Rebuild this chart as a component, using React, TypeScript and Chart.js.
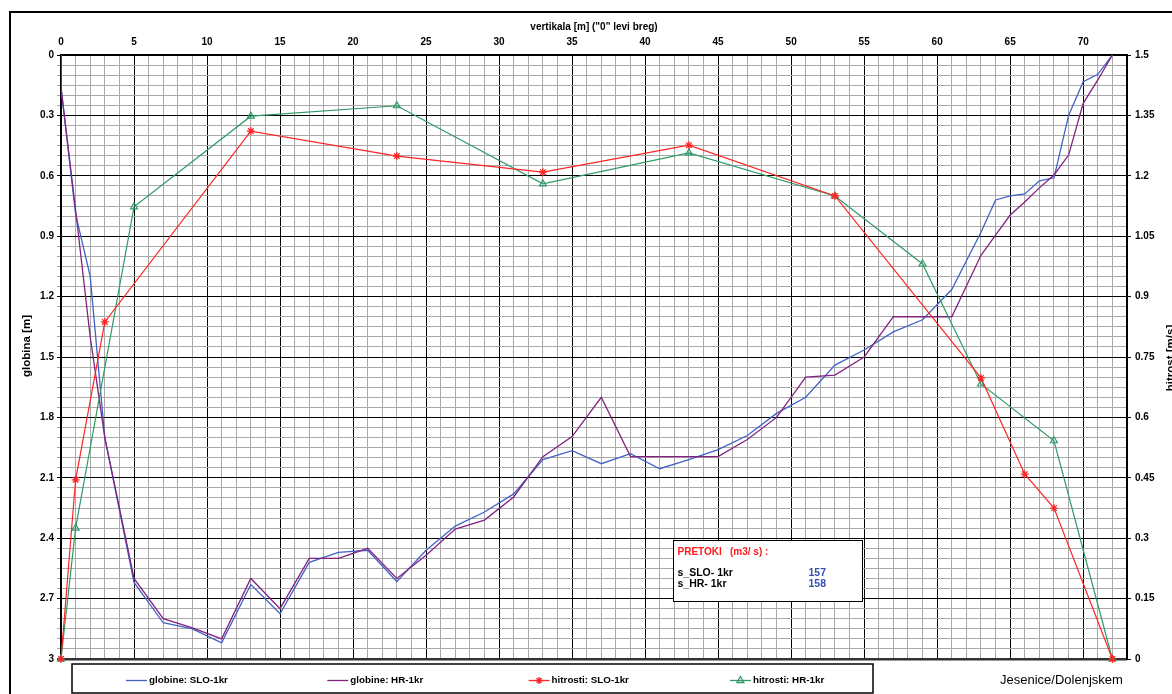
import React, { useEffect, useRef } from 'react';
import { Chart, registerables } from 'chart.js';

Chart.register(...registerables);

// ---- data ----
const depthX = [0, 0, 1, 2, 3, 5, 7, 9, 11, 13, 15, 17, 19, 21, 23, 25, 27, 29, 31, 33, 35, 37, 39, 41, 43, 45, 47, 49, 51, 53, 55, 57, 59, 61, 63, 64, 65, 66, 67, 68, 69, 70, 71, 72];
const depthSLO = [0, 0.16, 0.79, 1.1, 1.9, 2.62, 2.82, 2.85, 2.92, 2.63, 2.775, 2.52, 2.47, 2.46, 2.615, 2.46, 2.34, 2.27, 2.18, 2.01, 1.965, 2.03, 1.98, 2.055, 2.01, 1.96, 1.89, 1.78, 1.7, 1.54, 1.465, 1.375, 1.315, 1.165, 0.88, 0.72, 0.7, 0.69, 0.625, 0.61, 0.3, 0.133, 0.096, 0];
const depthHR = [0, 0.16, 0.77, 1.4, 1.9, 2.6, 2.8, 2.845, 2.9, 2.6, 2.75, 2.5, 2.5, 2.45, 2.6, 2.485, 2.355, 2.31, 2.195, 1.995, 1.895, 1.7, 1.995, 1.995, 1.995, 1.995, 1.91, 1.8, 1.6, 1.59, 1.5, 1.3, 1.3, 1.3, 0.995, 0.895, 0.795, 0.73, 0.66, 0.596, 0.497, 0.24, 0.124, 0];

const velSLOX = [0, 1, 3, 13, 23, 33, 43, 53, 63, 66, 68, 72];
const velSLO = [0, 0.445, 0.837, 1.311, 1.249, 1.209, 1.276, 1.15, 0.698, 0.459, 0.375, 0];
const velHRX = [0, 1, 5, 13, 23, 33, 43, 53, 59, 63, 68, 72];
const velHR = [0, 0.325, 1.123, 1.348, 1.374, 1.18, 1.257, 1.15, 0.981, 0.683, 0.542, 0];

const seriesLabels = ['globine: SLO-1kr', 'globine: HR-1kr', 'hitrosti: SLO-1kr', 'hitrosti: HR-1kr'];
const flowTitle = 'PRETOKI';
const flowUnit = '(m3/ s) :';
const flowNames = ['s_SLO- 1kr', 's_HR- 1kr'];
const flowValues = [157, 158];
const xTitle = 'vertikala [m] ("0" levi breg)';
const yTitle = 'globina [m]';
const y2Title = 'hitrost [m/s]';
const placeName = 'Jesenice/Dolenjskem';

const xMax = 73;
const xLabelStep = 5;
const depthMax = 3;
const depthStep = 0.05;
const depthLabelStep = 0.3;
const velMax = 1.5;
const velStep = 0.15;

// ---- styles ----
const FONT = "'Liberation Sans', Arial, sans-serif";
const BLUE = '#4262c6';
const PURPLE = '#82237f';
const RED = '#ff2424';
const GREEN = '#2f9a68';
const MINOR = '#a9a9a9';

const toPts = (xs: number[], ys: number[]) => xs.map((x, i) => ({ x, y: ys[i] }));
const isMult = (v: number, s: number) => Math.abs(Math.round(v / s) * s - v) < 1e-6;

function drawStar(ctx: CanvasRenderingContext2D, x: number, y: number, r: number) {
  const d = r * Math.SQRT1_2;
  ctx.beginPath();
  ctx.moveTo(x - r, y); ctx.lineTo(x + r, y);
  ctx.moveTo(x, y - r); ctx.lineTo(x, y + r);
  ctx.moveTo(x - d, y - d); ctx.lineTo(x + d, y + d);
  ctx.moveTo(x - d, y + d); ctx.lineTo(x + d, y - d);
  ctx.stroke();
}
function drawTri(ctx: CanvasRenderingContext2D, x: number, y: number, r: number) {
  ctx.beginPath();
  ctx.moveTo(x, y - r);
  ctx.lineTo(x + r * 0.866, y + r * 0.5);
  ctx.lineTo(x - r * 0.866, y + r * 0.5);
  ctx.closePath();
  ctx.stroke();
}

const decorPlugin = {
  id: 'decor',
  afterDraw(chart: any) {
    const ctx: CanvasRenderingContext2D = chart.ctx;
    const ca = chart.chartArea;
    ctx.save();
    // outer frame
    ctx.strokeStyle = '#000';
    ctx.lineWidth = 2;
    ctx.strokeRect(10, 12, 1200, 720);

    ctx.fillStyle = '#000';
    ctx.textBaseline = 'middle';
    // top title
    ctx.font = `bold 10px ${FONT}`;
    ctx.textAlign = 'center';
    ctx.fillText(xTitle, (ca.left + ca.right) / 2, 27);
    // left title
    ctx.save();
    ctx.translate(27, 346);
    ctx.rotate(-Math.PI / 2);
    ctx.font = `bold 11.5px ${FONT}`;
    ctx.fillText(yTitle, 0, 0);
    ctx.restore();
    // right title
    ctx.save();
    ctx.translate(1171, 358);
    ctx.rotate(-Math.PI / 2);
    ctx.font = `bold 11.5px ${FONT}`;
    ctx.fillText(y2Title, 0, 0);
    ctx.restore();

    // info box
    const bx = 673, by = 540, bw = 189, bh = 61;
    ctx.fillStyle = '#fff';
    ctx.fillRect(bx, by, bw, bh);
    ctx.strokeStyle = '#000';
    ctx.lineWidth = 1;
    ctx.strokeRect(bx + 0.5, by + 0.5, bw, bh);
    ctx.textAlign = 'left';
    ctx.font = `bold 10px ${FONT}`;
    ctx.fillStyle = '#ff1a1a';
    ctx.fillText(flowTitle, bx + 4.5, by + 12);
    ctx.fillText(flowUnit, bx + 57, by + 12);
    ctx.font = `bold 10.5px ${FONT}`;
    flowNames.forEach((n, i) => {
      ctx.fillStyle = '#000';
      ctx.fillText(n, bx + 4.5, by + 33 + i * 11);
      ctx.fillStyle = '#3552b0';
      ctx.fillText(String(flowValues[i]), bx + 135.5, by + 33 + i * 11);
    });

    // legend box
    const lx = 72, ly = 664, lw = 801, lh = 29;
    ctx.fillStyle = '#fff';
    ctx.fillRect(lx, ly, lw, lh);
    ctx.strokeStyle = '#000';
    ctx.lineWidth = 1.5;
    ctx.strokeRect(lx, ly, lw, lh);
    const colors = [BLUE, PURPLE, RED, GREEN];
    ctx.font = `bold 9.8px ${FONT}`;
    seriesLabels.forEach((lab, i) => {
      const x0 = 126 + i * 201.3;
      const yy = 680.5;
      ctx.strokeStyle = colors[i];
      ctx.lineWidth = 1.3;
      ctx.beginPath();
      ctx.moveTo(x0, yy);
      ctx.lineTo(x0 + 21, yy);
      ctx.stroke();
      if (i === 2) drawStar(ctx, x0 + 10.5, yy, 3.5);
      if (i === 3) drawTri(ctx, x0 + 10.5, yy, 4);
      ctx.fillStyle = '#000';
      ctx.fillText(lab, x0 + 23, yy);
    });

    // place name
    ctx.font = `13px ${FONT}`;
    ctx.fillStyle = '#000';
    ctx.fillText(placeName, 1000, 680);
    ctx.restore();
  },
};

export default function App() {
  const ref = useRef<HTMLCanvasElement>(null);
  useEffect(() => {
    const tickFont = { family: FONT, size: 10, weight: 'bold' as const };
    const chart = new Chart(ref.current!, {
      type: 'line',
      data: {
        datasets: [
          {
            label: seriesLabels[2], data: toPts(velSLOX, velSLO), yAxisID: 'y2', xAxisID: 'x',
            borderColor: RED, borderWidth: 1.2, pointStyle: 'star', pointRadius: 4,
            pointBorderColor: RED, pointBorderWidth: 1.2, pointBackgroundColor: RED, clip: false as any,
          },
          {
            label: seriesLabels[3], data: toPts(velHRX, velHR), yAxisID: 'y2', xAxisID: 'x',
            borderColor: GREEN, borderWidth: 1.2, pointStyle: 'triangle', pointRadius: 4,
            pointBorderColor: GREEN, pointBorderWidth: 1.2, pointBackgroundColor: 'rgba(255,255,255,0)', clip: false as any,
          },
          {
            label: seriesLabels[1], data: toPts(depthX, depthHR), yAxisID: 'y', xAxisID: 'x',
            borderColor: PURPLE, borderWidth: 1.3, pointRadius: 0,
          },
          {
            label: seriesLabels[0], data: toPts(depthX, depthSLO), yAxisID: 'y', xAxisID: 'x',
            borderColor: BLUE, borderWidth: 1.3, pointRadius: 0,
          },
        ],
      },
      options: {
        responsive: false,
        animation: false,
        devicePixelRatio: 1,
        layout: { padding: { left: 0, right: 0, top: 0, bottom: 35 } },
        plugins: { legend: { display: false }, tooltip: { enabled: false } },
        elements: { line: { tension: 0 } },
        scales: {
          x: {
            type: 'linear', position: 'top', min: 0, max: xMax,
            ticks: {
              stepSize: 1, autoSkip: false, maxRotation: 0, padding: 7, color: '#000', font: tickFont,
              callback: (v: any) => (isMult(v, xLabelStep) && v < xMax ? String(v) : ''),
            },
            grid: {
              drawTicks: false,
              color: (c: any) => (c.tick && (isMult(c.tick.value, xLabelStep) || c.tick.value === xMax) ? '#000' : MINOR),
              lineWidth: 1,
            },
            border: { display: true, color: '#000', width: 2 },
            afterFit: (s: any) => { s.height = 55; },
          },
          y: {
            type: 'linear', position: 'left', min: 0, max: depthMax, reverse: true,
            ticks: {
              stepSize: depthStep, autoSkip: false, padding: 3, color: '#000', font: tickFont,
              callback: (v: any) => (isMult(v, depthLabelStep) ? String(Number(v.toFixed(2))) : ''),
            },
            grid: {
              tickLength: 4,
              color: (c: any) => {
                if (!c.tick) return MINOR;
                if (c.tick.value === depthMax) return '#333';
                return isMult(c.tick.value, depthLabelStep) ? '#000' : MINOR;
              },
              lineWidth: (c: any) => {
                if (!c.tick) return 1;
                if (c.tick.value === depthMax) return 2.5;
                return 1;
              },
            },
            border: { display: true, color: '#000', width: 2 },
            afterFit: (s: any) => { s.width = 61; },
          },
          y2: {
            type: 'linear', position: 'right', min: 0, max: velMax,
            ticks: {
              stepSize: velStep, autoSkip: false, padding: 4, color: '#000', font: tickFont,
              callback: (v: any) => String(Number(v.toFixed(2))),
            },
            grid: { drawOnChartArea: false, tickLength: 4, color: '#000', lineWidth: 1 },
            border: { display: true, color: '#000', width: 2 },
            afterFit: (s: any) => { s.width = 45; },
          },
        },
      },
      plugins: [decorPlugin],
    });
    return () => chart.destroy();
  }, []);
  return (
    <div style={{ position: 'fixed', left: 0, top: 0, width: 1172, height: 694, background: '#fff' }}>
      <canvas ref={ref} width={1172} height={694} style={{ display: 'block', width: 1172, height: 694 }} />
    </div>
  );
}
